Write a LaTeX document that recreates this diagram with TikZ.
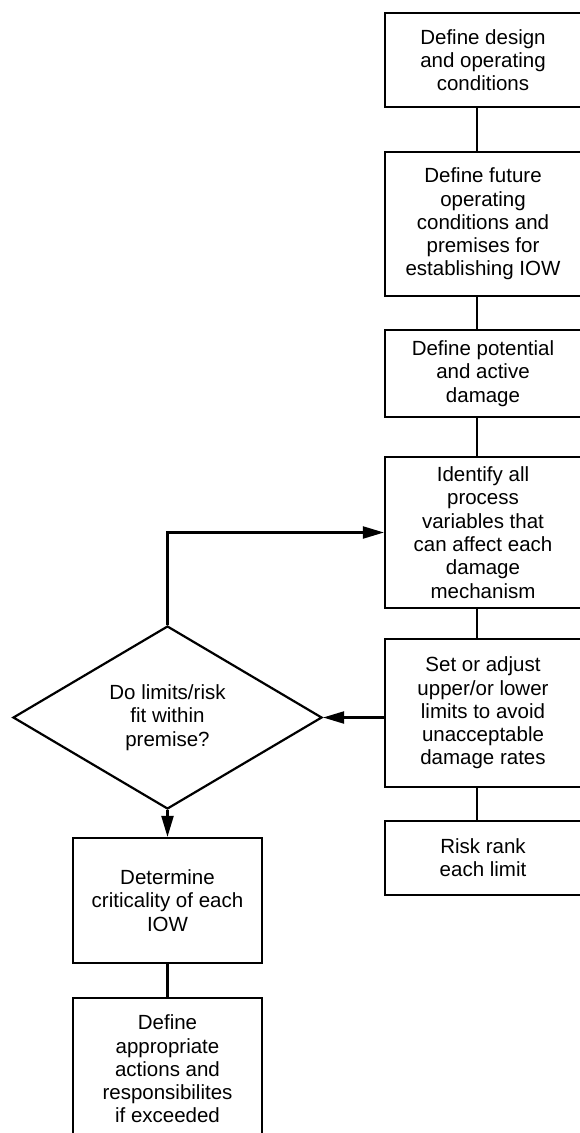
\documentclass[tikz,border=0pt]{standalone}
\usepackage{fontspec}
\setmainfont{Liberation Sans}
\usetikzlibrary{arrows.meta,shapes.geometric}
\tikzset{
  box/.style={draw=black, line width=2.2pt, rectangle, inner sep=0pt, align=center,
    font=\fontsize{20.5}{23.3}\selectfont},
  decision/.style={draw=black, line width=2.2pt, diamond, aspect=1.69, inner sep=0pt, align=center,
    minimum width=309pt, minimum height=183pt, font=\fontsize{20.5}{23.3}\selectfont},
  conn/.style={draw=black, line width=2.2pt},
  arr/.style={conn, -{Triangle[length=21pt,width=12pt]}}
}
\begin{document}
\begin{tikzpicture}[x=1pt,y=-1pt]
\useasboundingbox (0,0) rectangle (579,1133);
\fill[white] (0,0) rectangle (579,1133);
% right column
\node[box, minimum width=196pt, minimum height=94pt] (b1) at (483,60) {Define design\\and operating\\conditions};
\node[box, minimum width=196pt, minimum height=144pt] (b2) at (483,224) {Define future\\operating\\conditions and\\premises for\\establishing IOW};
\node[box, minimum width=196pt, minimum height=87pt] (b3) at (483,373.5) {Define potential\\and active\\damage};
\node[box, minimum width=196pt, minimum height=151pt] (b4) at (483,532.5) {Identify all\\process\\variables that\\can affect each\\damage\\mechanism};
\node[box, minimum width=196pt, minimum height=148pt] (b5) at (483,713) {Set or adjust\\upper/or lower\\limits to avoid\\unacceptable\\damage rates};
\node[box, minimum width=196pt, minimum height=74pt] (b6) at (483,858) {Risk rank\\each limit};
% left column
\node[decision] (d) at (167.5,717.5) {Do limits/risk\\fit within\\premise?};
\node[box, minimum width=189pt, minimum height=125pt] (l1) at (167.5,900.5) {Determine\\criticality of each\\IOW};
\node[box, minimum width=189pt, minimum height=142pt] (l2) at (167.5,1069) {Define\\appropriate\\actions and\\responsibilites\\if exceeded};
% connectors
\coordinate (cx) at (477,0);
\draw[conn] (b1.south -| cx) -- (b2.north -| cx);
\draw[conn] (b2.south -| cx) -- (b3.north -| cx);
\draw[conn] (b3.south -| cx) -- (b4.north -| cx);
\draw[conn] (b4.south -| cx) -- (b5.north -| cx);
\draw[conn] (b5.south -| cx) -- (b6.north -| cx);
\draw[arr] (b5.west |- d.east) -- (d.east);
\draw[arr] (d.north) |- (b4.west);
\draw[arr] (d.south) -- (l1.north);
\draw[conn] (l1.south) -- (l2.north);
\end{tikzpicture}
\end{document}
